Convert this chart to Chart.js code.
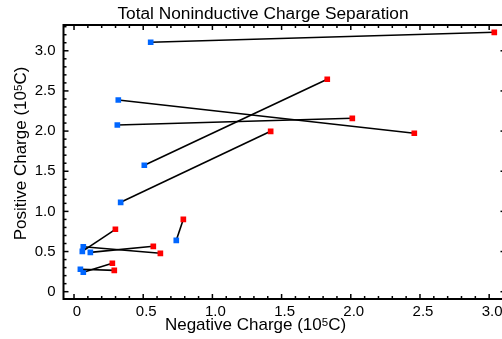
<!DOCTYPE html>
<html><head><meta charset="utf-8">
<script src="https://cdn.jsdelivr.net/npm/chart.js@4/dist/chart.umd.min.js"></script>
<style>html,body{margin:0;padding:0;overflow:hidden;background:#fff;}#wrap{width:510px;height:339px;position:relative;}</style>
</head><body><div id="wrap"><canvas id="c"></canvas></div>
<script>
// Blue (start) points and red (end) points, units of 10^5 C
const negStart = [0.554, 0.320, 0.313, 0.508, 0.337, 0.739, 0.060, 0.067, 0.118, 0.046, 0.067];
const posStart = [3.106, 2.387, 2.076, 1.574, 1.113, 0.640, 0.503, 0.560, 0.490, 0.279, 0.242];
const negEnd   = [3.037, 2.459, 2.011, 1.830, 1.421, 0.790, 0.299, 0.624, 0.573, 0.291, 0.277];
const posEnd   = [3.230, 1.973, 2.159, 2.645, 1.997, 0.901, 0.777, 0.478, 0.565, 0.266, 0.354];

const xTickValues = [0, 0.5, 1, 1.5, 2, 2.5, 3];
const xTickLabels = ['0', '0.5', '1.0', '1.5', '2.0', '2.5', '3.0'];
const yTickValues = [0, 0.5, 1, 1.5, 2, 2.5, 3];
const yTickLabels = ['0', '0.5', '1.0', '1.5', '2.0', '2.5', '3.0'];

const titleText = 'Total Noninductive Charge Separation';
const xTitleParts = ['Negative Charge (10', '5', 'C)'];
const yTitleParts = ['Positive Charge (10', '5', 'C)'];

const BLUE = 'rgb(0,102,255)';
const RED = 'rgb(255,0,0)';
const FONT = '"Liberation Sans", Arial, Helvetica, sans-serif';

const datasets = negStart.map((_, i) => ({
  data: [{x: negStart[i], y: posStart[i]}, {x: negEnd[i], y: posEnd[i]}],
  borderColor: '#000',
  borderWidth: 1.6,
  pointStyle: 'rect',
  pointRadius: 4,
  pointBorderWidth: 0,
  pointBackgroundColor: [BLUE, RED],
  pointBorderColor: [BLUE, RED],
  showLine: true,
  tension: 0
}));

function drawSup(ctx, parts, size, supSize, raise) {
  ctx.font = size + 'px ' + FONT;
  const w0 = ctx.measureText(parts[0]).width;
  const w2 = ctx.measureText(parts[2]).width;
  ctx.font = supSize + 'px ' + FONT;
  const w1 = ctx.measureText(parts[1]).width;
  const total = w0 + w1 + w2;
  let x = -total / 2;
  ctx.textAlign = 'left';
  ctx.textBaseline = 'alphabetic';
  ctx.font = size + 'px ' + FONT;
  ctx.fillText(parts[0], x, 0); x += w0;
  ctx.font = supSize + 'px ' + FONT;
  ctx.fillText(parts[1], x, -raise); x += w1;
  ctx.font = size + 'px ' + FONT;
  ctx.fillText(parts[2], x, 0);
}

const frame = {
  id: 'frame',
  afterDraw(chart) {
    const {ctx, chartArea: a, scales: {x, y}} = chart;
    ctx.save();
    ctx.strokeStyle = '#000';
    ctx.lineWidth = 2;
    ctx.strokeRect(a.left, a.top, a.right - a.left, a.bottom - a.top);
    ctx.lineWidth = 1.5;
    const seg = (x1, y1, x2, y2) => { ctx.beginPath(); ctx.moveTo(x1, y1); ctx.lineTo(x2, y2); ctx.stroke(); };
    for (let k = 0; k / 10 <= x.max; k++) {
      const px = x.getPixelForValue(k / 10);
      const len = k % 5 === 0 ? 5 : 3;
      seg(px, a.bottom, px, a.bottom - len);
      seg(px, a.top, px, a.top + len);
    }
    for (let k = 0; k / 10 <= y.max; k++) {
      const py = y.getPixelForValue(k / 10);
      const len = k % 5 === 0 ? 5 : 3;
      seg(a.left, py, a.left + len, py);
      seg(a.right, py, a.right - len, py);
    }
    ctx.fillStyle = '#000';
    ctx.font = '17.3px ' + FONT;
    ctx.textAlign = 'center';
    ctx.textBaseline = 'alphabetic';
    ctx.fillText(titleText, 263, 18.5);
    ctx.save();
    ctx.translate(255.5, 330);
    drawSup(ctx, xTitleParts, 17, 11.5, 4);
    ctx.restore();
    ctx.save();
    ctx.translate(26, 153.5);
    ctx.rotate(-Math.PI / 2);
    drawSup(ctx, yTitleParts, 17, 11.5, 4);
    ctx.restore();
    ctx.restore();
  }
};

new Chart(document.getElementById('c'), {
  type: 'scatter',
  data: {datasets},
  options: {
    responsive: true,
    maintainAspectRatio: false,
    animation: false,
    layout: {padding: {left: 0, top: 25, right: 4.5, bottom: 0}},
    plugins: {legend: {display: false}, tooltip: {enabled: false}, title: {display: false}},
    scales: {
      x: {
        type: 'linear', min: -0.076, max: 3.118,
        afterFit(s) { s.height = 40; },
        afterBuildTicks(s) { s.ticks = xTickValues.map(v => ({value: v})); },
        ticks: {
          callback: v => xTickLabels[xTickValues.indexOf(v)],
          font: {family: FONT, size: 15}, color: '#000', padding: 4, labelOffset: 3,
          autoSkip: false, maxRotation: 0
        },
        grid: {display: false, drawTicks: false},
        border: {display: false}
      },
      y: {
        type: 'linear', min: -0.091, max: 3.321,
        afterFit(s) { s.width = 63.5; },
        afterBuildTicks(s) { s.ticks = yTickValues.map(v => ({value: v})); },
        ticks: {
          callback: v => yTickLabels[yTickValues.indexOf(v)],
          font: {family: FONT, size: 15}, color: '#000', padding: 8, autoSkip: false
        },
        grid: {display: false, drawTicks: false},
        border: {display: false}
      }
    }
  },
  plugins: [frame]
});
</script>
</body></html>
